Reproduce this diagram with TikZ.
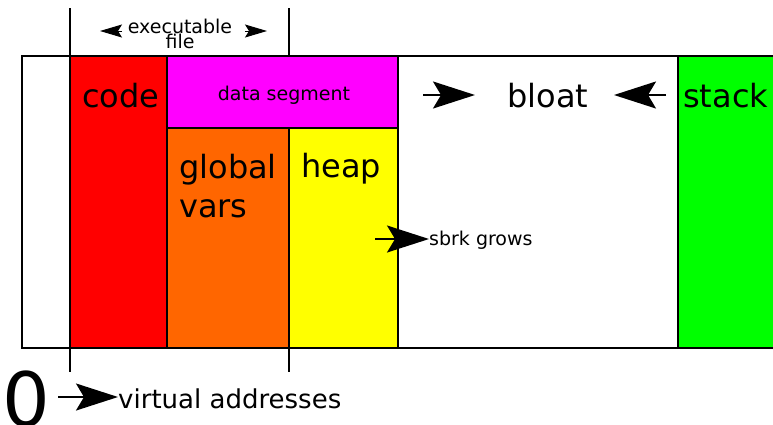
\documentclass[tikz,border=0pt]{standalone}
\usepackage{fontspec}
\setmainfont{DejaVu Sans}
\usetikzlibrary{arrows.meta}

\definecolor{segred}{HTML}{FF0000}
\definecolor{segmagenta}{HTML}{FF00FF}
\definecolor{segorange}{HTML}{FF6600}
\definecolor{segyellow}{HTML}{FFFF00}
\definecolor{seggreen}{HTML}{00FF00}

\tikzset{
  seg/.style={draw=black, line width=2.2pt},
  bigarrow/.style={line width=2pt, -{Stealth[length=42pt,width=27pt,inset=8pt]}},
  smallhead/.style={line width=1pt, -{Stealth[length=22pt,width=13pt,inset=4pt]}},
  bigtext/.style={font=\fontsize{32}{38}\selectfont, anchor=base west, inner sep=0pt},
  smalltext/.style={font=\fontsize{19}{22}\selectfont, inner sep=0pt}
}

\begin{document}
\begin{tikzpicture}[x=1pt, y=-1pt]
    \useasboundingbox (0,0) rectangle (773,424);

    % Parameters
    \def\top{56}   % top of memory strip
    \def\bot{348}  % bottom of memory strip
    \def\mid{128}  % bottom of data segment

    % Executable file bounds
    \draw[line width=2.2pt] (70,8) -- (70,372);
    \draw[line width=2.2pt] (289,8) -- (289,372);

    % Memory strip
    \draw[seg, fill=white] (22,\top) rectangle (790,\bot);
    \draw[seg, fill=segred] (70,\top) rectangle (167,\bot); % code
    \draw[seg, fill=segmagenta] (167,\top) rectangle (398,\mid); % data segment
    \draw[seg, fill=segorange] (167,\mid) rectangle (289,\bot); % global vars
    \draw[seg, fill=segyellow] (289,\mid) rectangle (398,\bot); % heap
    \draw[seg, fill=seggreen] (678,\top) rectangle (790,\bot); % stack

    % Labels
    \node[bigtext] (code) at (82,107) {code};
    \node[smalltext, anchor=base] (data) at (284,100) {data segment};
    \node[bigtext] (global) at (179,178) {global};
    \node[bigtext] (vars) at (179,217) {vars};
    \node[bigtext] (heap) at (301,177) {heap};
    \node[bigtext] (bloat) at (507,107) {bloat};
    \node[bigtext] (stack) at (683,107) {stack};
    \node[smalltext, anchor=base west] (sbrk) at (429,245) {sbrk grows};
    \node[smalltext, anchor=base] (exec) at (180,33) {executable};
    \node[smalltext, anchor=base] (file) at (180,48) {file};
    \node[font=\fontsize{75}{80}\selectfont, anchor=base west, inner sep=0pt] (zero) at (2,426) {0};
    \node[font=\fontsize{26}{30}\selectfont, anchor=base west, inner sep=0pt] (virt) at (118,408) {virtual addresses};

    % Arrows
    \coordinate (execL) at (122,31);
    \coordinate (execLtip) at (100,31);
    \coordinate (execR) at (245,31);
    \coordinate (execRtip) at (267,31);
    \draw[smallhead] (execL) -- (execLtip);
    \draw[smallhead] (execR) -- (execRtip);

    \coordinate (bloatA) at (423,95);
    \coordinate (bloatAtip) at (475,95);
    \coordinate (bloatB) at (666,95);
    \coordinate (bloatBtip) at (614,95);
    \draw[bigarrow] (bloatA) -- (bloatAtip);
    \draw[bigarrow] (bloatB) -- (bloatBtip);

    \coordinate (sbrkA) at (375,239);
    \draw[bigarrow] (sbrkA) -- (sbrk.west |- sbrkA);

    \coordinate (virtA) at (58,397);
    \draw[bigarrow] (virtA) -- (virt.west |- virtA);
\end{tikzpicture}
\end{document}
